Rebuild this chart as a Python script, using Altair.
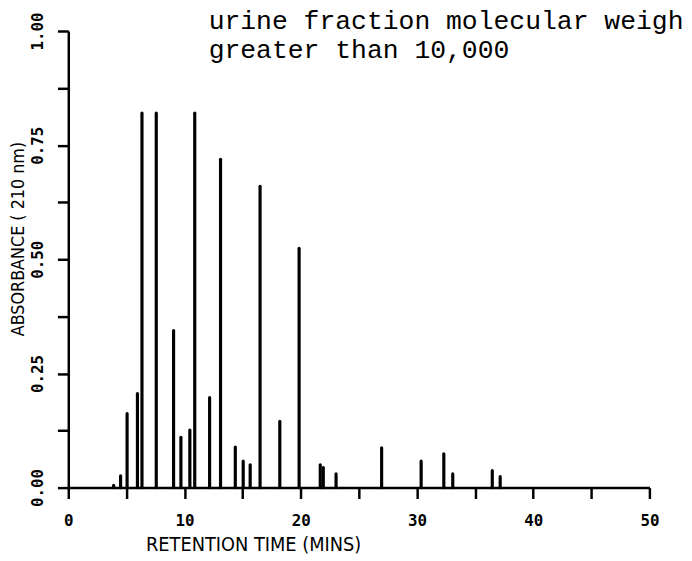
import altair as alt
import pandas as pd

# Peak retention times (min) and absorbance heights
peak_time = [3.9, 4.5, 5.06, 5.95, 6.34, 7.57, 9.06, 9.69, 10.46, 10.88, 12.16, 13.10,
             14.37, 15.05, 15.65, 16.50, 18.20, 19.86, 21.68, 21.94, 23.04, 26.96,
             30.36, 32.31, 33.08, 36.48, 37.16]
peak_abs = [0.005, 0.026, 0.162, 0.206, 0.82, 0.82, 0.344, 0.110, 0.126, 0.82, 0.197, 0.719,
            0.089, 0.058, 0.050, 0.66, 0.145, 0.524, 0.050, 0.044, 0.030, 0.087,
            0.058, 0.074, 0.030, 0.037, 0.024]

x_ticks = [0, 5, 10, 15, 20, 25, 30, 35, 40, 45, 50]
y_ticks = [0, 0.125, 0.25, 0.375, 0.5, 0.625, 0.75, 0.875, 1.0]
title_lines = "urine fraction molecular weigh\ngreater than 10,000"

df = pd.DataFrame({"t": peak_time, "a": peak_abs, "zero": [0.0] * len(peak_time)})

label_font = "DejaVu Sans Mono"

x_enc = alt.X(
    "t:Q",
    scale=alt.Scale(domain=[0, 50], nice=False, zero=False),
    axis=alt.Axis(
        values=x_ticks,
        labelExpr="datum.value % 10 == 0 ? format(datum.value, 'd') : ''",
        title="RETENTION TIME (MINS)",
        titleFont="DejaVu Sans Condensed",
        titleFontSize=20,
        titleFontWeight="normal",
        titleX=187,
        titleY=58,
        titleBaseline="middle",
        titleAlign="center",
        labelFont=label_font,
        labelFontWeight="bold",
        labelFontSize=16,
        labelPadding=14,
        tickSize=11,
        tickWidth=2.5,
        domainWidth=2.5,
        domainColor="black",
        tickColor="black",
        labelColor="black",
        titleColor="black",
        grid=False,
        labelFlush=False,
    ),
)

y_enc = alt.Y(
    "a:Q",
    scale=alt.Scale(domain=[0, 1.0], nice=False),
    axis=alt.Axis(
        values=y_ticks,
        labelExpr="(datum.value * 4) % 1 == 0 ? format(datum.value, '.2f') : ''",
        title="ABSORBANCE ( 210 nm)",
        titleFont="DejaVu Sans Condensed",
        titleFontSize=18,
        titleFontWeight="normal",
        titleAngle=270,
        titleX=-50,
        titleY=210,
        titleAlign="center",
        titleBaseline="middle",
        labelAngle=270,
        labelAlign="center",
        labelBaseline="bottom",
        labelFont=label_font,
        labelFontWeight="bold",
        labelFontSize=16,
        labelPadding=12,
        tickSize=11,
        tickWidth=2.5,
        domainWidth=2.5,
        domainColor="black",
        tickColor="black",
        labelColor="black",
        titleColor="black",
        grid=False,
        labelFlush=False,
    ),
)

peaks = alt.Chart(df).mark_rule(color="black", strokeWidth=3.2, strokeCap="round").encode(
    x=x_enc,
    y=y_enc,
    y2="zero:Q",
)

title = alt.Chart(pd.DataFrame({"txt": [title_lines]})).mark_text(
    font="Liberation Mono",
    fontSize=26.7,
    align="left",
    baseline="alphabetic",
    lineBreak="\n",
    lineHeight=29,
    color="black",
).encode(
    x=alt.value(142),
    y=alt.value(-2),
    text="txt:N",
)

chart = (
    alt.layer(peaks, title)
    .properties(
        width=588,
        height=462,
        padding={"left": 61, "top": 20, "right": 35, "bottom": 71},
        autosize=alt.AutoSizeParams(type="none"),
        background="white",
    )
    .configure_view(stroke=None)
)

chart.save("out.html", embed_options={"renderer": "svg", "actions": False})
